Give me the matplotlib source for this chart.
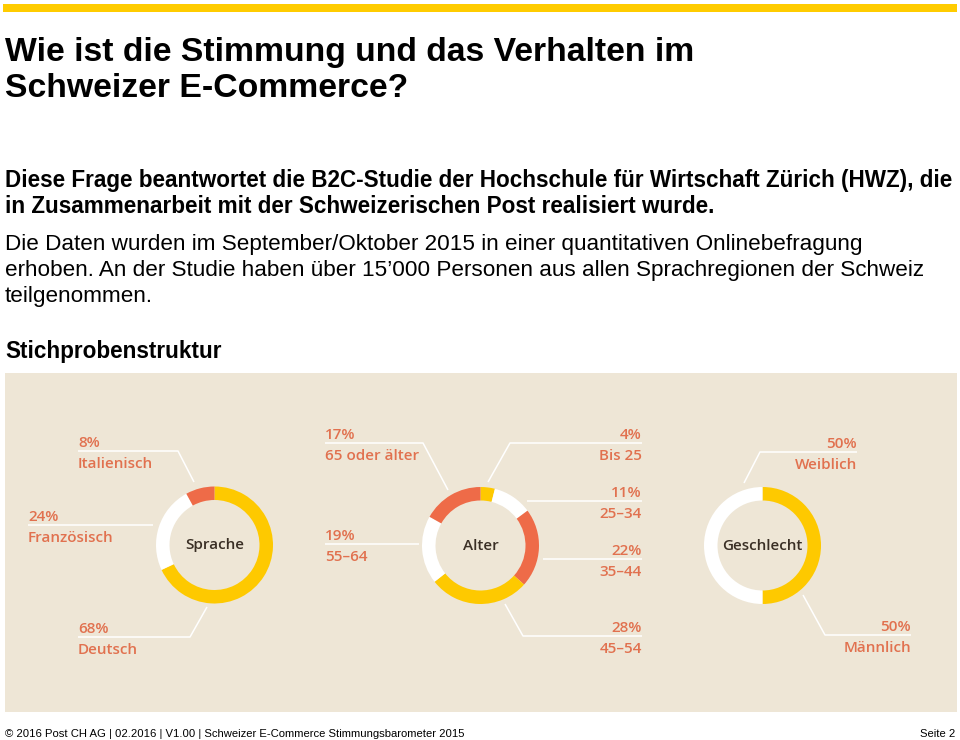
import matplotlib
matplotlib.use("Agg")
import matplotlib.pyplot as plt
from matplotlib.patches import Rectangle

# ---------------- data ----------------
sprache_labels = ["Deutsch", "Französisch", "Italienisch"]
sprache_values = [68, 24, 8]

alter_labels = ["Bis 25", "25–34", "35–44", "45–54", "55–64", "65 oder älter"]
alter_values = [4, 11, 22, 28, 19, 17]

geschlecht_labels = ["Männlich", "Weiblich"]
geschlecht_values = [50, 50]

title_lines = ["Wie ist die Stimmung und das Verhalten im", "Schweizer E-Commerce?"]
bold_lines = ["Diese Frage beantwortet die B2C-Studie der Hochschule für Wirtschaft Zürich (HWZ), die",
              "in Zusammenarbeit mit der Schweizerischen Post realisiert wurde."]
normal_lines = ["Die Daten wurden im September/Oktober 2015 in einer quantitativen Onlinebefragung",
                "erhoben. An der Studie haben über 15’000 Personen aus allen Sprachregionen der Schweiz",
                "teilgenommen."]
section_title = "Stichprobenstruktur"
footer_left = "© 2016 Post CH AG | 02.2016 | V1.00 | Schweizer E-Commerce Stimmungsbarometer 2015"
footer_right = "Seite 2"

# ---------------- style ----------------
YELLOW = "#FEC900"
ORANGE = "#EE6B48"
WHITE = "#FFFFFF"
PANEL = "#EEE6D6"
LABEL = "#E1714F"
CENTER = "#3A2F25"
PANEL_FONT = "Open Sans"

sprache_colors = [YELLOW, WHITE, ORANGE]
alter_colors = [YELLOW, WHITE, ORANGE, YELLOW, WHITE, ORANGE]
geschlecht_colors = [YELLOW, WHITE]

W, H = 960, 740
fig = plt.figure(figsize=(W / 100, H / 100), dpi=100)
ax = fig.add_axes([0, 0, 1, 1])


def Y(y):
    return H - y


renderer = fig.canvas.get_renderer()


def fitted_text(x, y, s, width, **kw):
    t = ax.text(x, Y(y), s, fontsize=10, **kw)
    w = t.get_window_extent(renderer).width
    t.set_fontsize(10 * width / w)
    return t


# top yellow bar
ax.add_patch(Rectangle((3, Y(12)), 954, 8, color="#FFCC00", lw=0))

# title
t = fitted_text(5, 61, title_lines[0], 692, family="Liberation Sans", weight="bold", va="baseline")
fs_title = t.get_fontsize()
ax.text(5, Y(97), title_lines[1], fontsize=fs_title, family="Liberation Sans", weight="bold", va="baseline")

t = fitted_text(5, 187, bold_lines[0], 950, family="Liberation Sans", weight="bold", va="baseline")
fs_b = t.get_fontsize()
ax.text(5, Y(213), bold_lines[1], fontsize=fs_b, family="Liberation Sans", weight="bold", va="baseline")

t = fitted_text(5, 250, normal_lines[0], 857, family="Liberation Sans", va="baseline")
fs_n = t.get_fontsize()
for i, line in enumerate(normal_lines[1:]):
    ax.text(5, Y(276 + 26 * i), line, fontsize=fs_n, family="Liberation Sans", va="baseline")

ax.text(5, Y(358), section_title, fontsize=fs_b, family="Liberation Sans", weight="bold", va="baseline")

# panel
ax.add_patch(Rectangle((5, Y(712)), 952, 712 - 373, color=PANEL, lw=0))

# donuts
R, RW = 58.5, 13.5
donuts = [
    (sprache_values, sprache_colors, (214.5, 545), "Sprache"),
    (alter_values, alter_colors, (480.5, 545.5), "Alter"),
    (geschlecht_values, geschlecht_colors, (762.5, 545.5), "Geschlecht"),
]
for vals, cols, (cx, cy), name in donuts:
    ax.pie(vals, colors=cols, startangle=90, counterclock=False, radius=R,
           center=(cx, Y(cy)), wedgeprops=dict(width=RW, edgecolor="none", linewidth=0))
    ax.text(cx, Y(cy), name, ha="center", va="center", fontsize=11, color=CENTER,
            family=PANEL_FONT, weight="semibold")

# leader labels (layout)
layout = {
    "Italienisch": (78, "left", [(78, 451), (178, 451), (194, 482)]),
    "Französisch": (28, "left", [(28, 525), (153, 525)]),
    "Deutsch": (78, "left", [(78, 637), (190, 637), (207, 607)]),
    "65 oder älter": (325, "left", [(325, 443), (423, 443), (448, 490)]),
    "Bis 25": (642, "right", [(642, 443), (510, 443), (488, 482)]),
    "25–34": (642, "right", [(642, 501), (527, 501)]),
    "35–44": (642, "right", [(642, 559), (543, 559)]),
    "55–64": (325, "left", [(325, 544), (419, 544)]),
    "45–54": (642, "right", [(642, 636), (523, 636), (505, 604)]),
    "Weiblich": (857, "right", [(857, 452), (760, 452), (744, 483)]),
    "Männlich": (911, "right", [(911, 635), (825, 635), (803, 595)]),
}

for labels, vals in [(sprache_labels, sprache_values), (alter_labels, alter_values),
                     (geschlecht_labels, geschlecht_values)]:
    for lab, v in zip(labels, vals):
        tx, ha, pts = layout[lab]
        ly = pts[0][1]
        ax.plot([p[0] for p in pts], [Y(p[1]) for p in pts], color="white", lw=1.1,
                solid_capstyle="butt")
        ax.text(tx, Y(ly - 4), f"{v}%", ha=ha, va="baseline", fontsize=11, color=LABEL,
                family=PANEL_FONT, weight="semibold")
        ax.text(tx, Y(ly + 17), lab, ha=ha, va="baseline", fontsize=11, color=LABEL,
                family=PANEL_FONT, weight="semibold")

# footer
t = fitted_text(5, 737, footer_left, 462, family="Liberation Sans", va="baseline")
ax.text(955, Y(737), footer_right, fontsize=t.get_fontsize(), family="Liberation Sans",
        va="baseline", ha="right")

ax.set_xlim(0, W)
ax.set_ylim(0, H)
ax.set_aspect("auto")
ax.axis("off")
fig.savefig("out.png", dpi=100, facecolor="white")
